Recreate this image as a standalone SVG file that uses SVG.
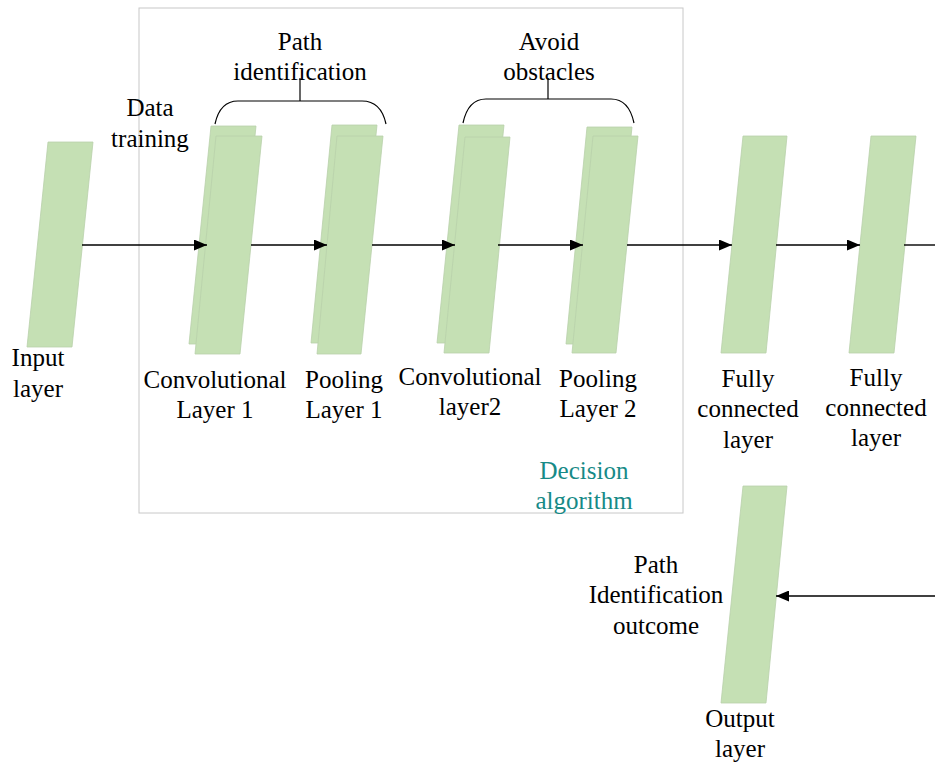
<svg xmlns="http://www.w3.org/2000/svg" width="935" height="763" viewBox="0 0 935 763">
<defs>
<marker id="ah" markerUnits="userSpaceOnUse" markerWidth="13" markerHeight="11" refX="13" refY="5.5" orient="auto">
<path d="M0,0 L13,5.5 L0,11 z" fill="#000"/>
</marker>
<style>
.lay{fill:#c5e0b4;stroke:#b9d1ab;stroke-width:0.8}
.box{fill:none;stroke:#c8c8c8;stroke-width:1}
.con{fill:none;stroke:#000;stroke-width:1.4}
.br{fill:none;stroke:#000;stroke-width:1.2}
text{font-family:"Liberation Serif","Times New Roman",serif;font-size:25px;fill:#000;text-anchor:middle}
.teal{fill:#178a87}
</style>
</defs>
<rect width="935" height="763" fill="#fff"/>
<g id="decision-box">
<rect class="box" x="139" y="8" width="544" height="505"/>
<text class="teal" x="584" y="479">Decision</text>
<text class="teal" x="584" y="509">algorithm</text>
</g>
<g id="input-layer">
<polygon class="lay" points="48,142 93,142 72,347 27,347"/>
<text x="38" y="366">Input</text>
<text x="38" y="397">layer</text>
</g>
<g id="conv1">
<polygon class="lay" points="211,126 256,126 234,344 189,344"/>
<polygon class="lay" points="216,136 262,136 240,354 195,354"/>
<text x="215" y="388">Convolutional</text>
<text x="215" y="418">Layer 1</text>
</g>
<g id="pool1">
<polygon class="lay" points="332,125 377,125 355,343 311,343"/>
<polygon class="lay" points="337,136 383,136 361,354 317,354"/>
<text x="344" y="388">Pooling</text>
<text x="344" y="418">Layer 1</text>
</g>
<g id="conv2">
<polygon class="lay" points="459,125 504,125 482,343 437,343"/>
<polygon class="lay" points="465,137 510,137 489,353 444,353"/>
<text x="470" y="385">Convolutional</text>
<text x="470" y="415">layer2</text>
</g>
<g id="pool2">
<polygon class="lay" points="587,127 632,127 610,344 566,344"/>
<polygon class="lay" points="593,136 638,136 616,353 572,353"/>
<text x="598" y="387">Pooling</text>
<text x="598" y="417">Layer 2</text>
</g>
<g id="fc1">
<polygon class="lay" points="743,136 787,136 766,353 721,353"/>
<text x="748" y="387">Fully</text>
<text x="748" y="417">connected</text>
<text x="748" y="448">layer</text>
</g>
<g id="fc2">
<polygon class="lay" points="871,136 916,136 894,353 849,353"/>
<text x="876" y="386">Fully</text>
<text x="876" y="416">connected</text>
<text x="876" y="446">layer</text>
</g>
<g id="output-layer">
<polygon class="lay" points="743,486 787,486 766,703 721,703"/>
<text x="740" y="727">Output</text>
<text x="740" y="757">layer</text>
</g>
<g id="labels">
<text x="150" y="116">Data</text>
<text x="150" y="147">training</text>
<text x="300" y="50">Path</text>
<text x="300" y="80">identification</text>
<text x="549" y="50">Avoid</text>
<text x="549" y="80">obstacles</text>
<text x="656" y="573">Path</text>
<text x="656" y="603">Identification</text>
<text x="656" y="634">outcome</text>
</g>
<g id="connectors">
<line class="con" x1="82" y1="245" x2="207" y2="245" marker-end="url(#ah)"/>
<line class="con" x1="251" y1="245" x2="327" y2="245" marker-end="url(#ah)"/>
<line class="con" x1="372" y1="245" x2="455" y2="245" marker-end="url(#ah)"/>
<line class="con" x1="498" y1="245" x2="583" y2="245" marker-end="url(#ah)"/>
<line class="con" x1="627" y1="245" x2="732" y2="245" marker-end="url(#ah)"/>
<line class="con" x1="776" y1="245" x2="860" y2="245" marker-end="url(#ah)"/>
<line class="con" x1="904" y1="245" x2="935" y2="245"/>
<line class="con" x1="935" y1="596" x2="776" y2="596" marker-end="url(#ah)"/>
<path class="br" d="M215,124 C218,110 225,101 238,101 L362,101 C375,101 383,110 386,124"/>
<path class="br" d="M300,101 V78"/>
<path class="br" d="M463,123 C466,109 473,99 486,99 L611,99 C624,99 631,109 634,123"/>
<path class="br" d="M548,99 V78"/>
</g>
</svg>
